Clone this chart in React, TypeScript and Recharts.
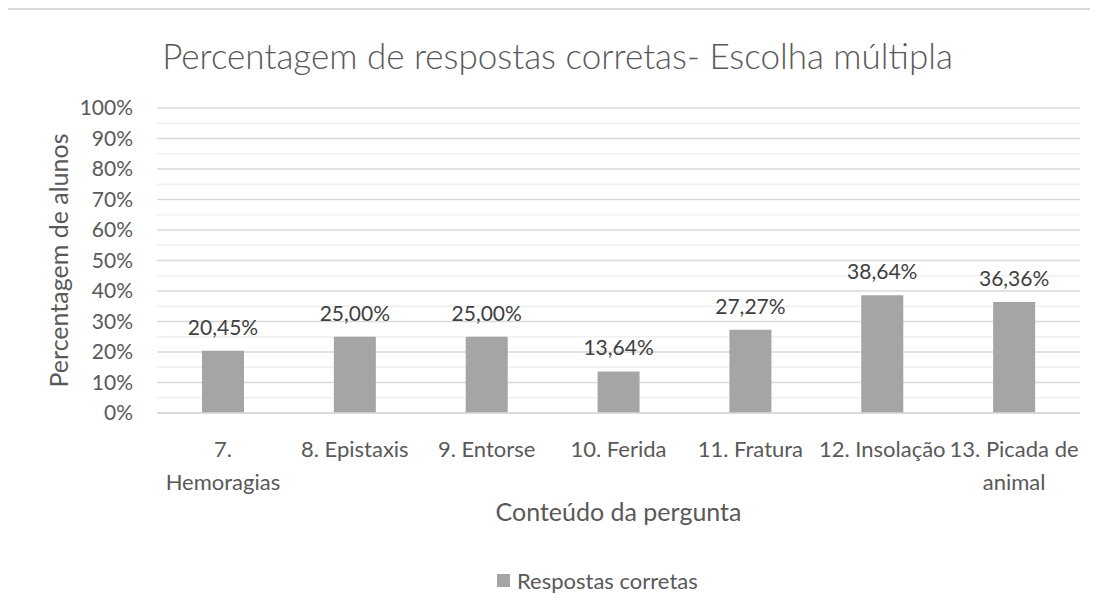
import React from 'react';
import { BarChart, Bar, XAxis, YAxis, CartesianGrid, LabelList } from 'recharts';

const categories = [
  '7. Hemoragias',
  '8. Epistaxis',
  '9. Entorse',
  '10. Ferida',
  '11. Fratura',
  '12. Insolação',
  '13. Picada de animal',
];
// how each category label wraps under the axis
const tickLines = [
  ['7.', 'Hemoragias'],
  ['8. Epistaxis'],
  ['9. Entorse'],
  ['10. Ferida'],
  ['11. Fratura'],
  ['12. Insolação'],
  ['13. Picada de', 'animal'],
];
const correctPct = [20.45, 25.0, 25.0, 13.64, 27.27, 38.64, 36.36];
const yDomain = [0, 100];
const yTicks = [0, 10, 20, 30, 40, 50, 60, 70, 80, 90, 100];
const yMinorTicks = [5, 15, 25, 35, 45, 55, 65, 75, 85, 95];

const seriesName = 'Respostas corretas';
const chartTitle = 'Percentagem de respostas corretas- Escolha múltipla';
const xTitle = 'Conteúdo da pergunta';
const yTitle = 'Percentagem de alunos';

const data = categories.map((name, i) => ({ name, value: correctPct[i] }));

const barColor = '#a5a5a5';
const textColor = '#595959';
const fontFamily = 'Lato, "Open Sans", sans-serif';

const fmtPct = (v: number) => v.toFixed(2).replace('.', ',') + '%';

const CategoryTick = (props: any) => {
  const { x, y, payload } = props;
  const lines = tickLines[payload.index] || [payload.value];
  return (
    <g transform={`translate(${x},${y})`}>
      {lines.map((line: string, i: number) => (
        <text key={i} x={0} y={36 + i * 33} textAnchor="middle" fill={textColor} fontSize={22}>
          {line}
        </text>
      ))}
    </g>
  );
};

// minor gridlines at the 5% steps, placed with the value axis scale
const minorLines = (props: any) => {
  const s = props?.yAxis?.scale;
  return yMinorTicks.map((v) => {
    if (typeof s === 'function') return s(v);
    if (s && typeof s.map === 'function') return s.map(v);
    const { top, height } = props.offset;
    return top + height * (1 - (v - yDomain[0]) / (yDomain[1] - yDomain[0]));
  });
};

export default function App() {
  return (
    <div
      style={{
        position: 'relative',
        width: 1092,
        height: 610,
        marginLeft: -2,
        borderTop: '2px solid #d9d9d9',
        borderLeft: '2px solid #d9d9d9',
        boxSizing: 'border-box',
        background: '#fff',
        fontFamily,
      }}
    >
      <div
        style={{
          position: 'absolute',
          left: 0,
          width: 1099,
          top: 28,
          textAlign: 'center',
          fontSize: 35,
          lineHeight: '35px',
          fontWeight: 300,
          color: textColor,
          whiteSpace: 'nowrap',
        }}
      >
        {chartTitle}
      </div>

      <BarChart
        width={1081}
        height={597}
        data={data}
        margin={{ top: 98, right: 9, left: 69, bottom: 74 }}
      >
        <CartesianGrid
          vertical={false}
          stroke="#f0f0f0"
          strokeWidth={1.5}
          horizontalCoordinatesGenerator={minorLines}
        />
        <CartesianGrid vertical={false} stroke="#d9d9d9" strokeWidth={1.5} />
        <YAxis
          domain={yDomain}
          ticks={yTicks}
          width={80}
          tickLine={false}
          axisLine={false}
          tickSize={0}
          tickMargin={24}
          tickFormatter={(v: number) => `${v}%`}
          tick={{ fill: textColor, fontSize: 21 }}
          label={(p: any) => {
            const vb = p.viewBox;
            const cx = vb.x - 9;
            const cy = vb.y + vb.height / 2;
            return (
              <text
                x={cx}
                y={cy}
                transform={`rotate(-90, ${cx}, ${cy})`}
                textAnchor="middle"
                fill={textColor}
                fontSize={25}
              >
                {yTitle}
              </text>
            );
          }}
        />
        <XAxis
          dataKey="name"
          height={120}
          interval={0}
          tickLine={false}
          axisLine={{ stroke: '#d9d9d9', strokeWidth: 1.5 }}
          tick={<CategoryTick />}
          label={(p: any) => {
            const vb = p.viewBox;
            return (
              <text
                x={vb.x + vb.width / 2}
                y={vb.y + 108}
                textAnchor="middle"
                fill={textColor}
                fontSize={25}
              >
                {xTitle}
              </text>
            );
          }}
        />
        <Bar dataKey="value" name={seriesName} fill={barColor} barSize={42} isAnimationActive={false}>
          <LabelList
            dataKey="value"
            position="top"
            offset={16}
            formatter={(v: any) => fmtPct(Number(v))}
            fill="#404040"
            fontSize={21}
          />
        </Bar>
      </BarChart>

      <div
        style={{
          position: 'absolute',
          left: 489,
          top: 558,
          height: 24,
          display: 'flex',
          alignItems: 'center',
          color: textColor,
          fontSize: 22,
          whiteSpace: 'nowrap',
        }}
      >
        <span style={{ display: 'inline-block', width: 13, height: 13, background: barColor, marginRight: 7 }} />
        {seriesName}
      </div>
    </div>
  );
}
